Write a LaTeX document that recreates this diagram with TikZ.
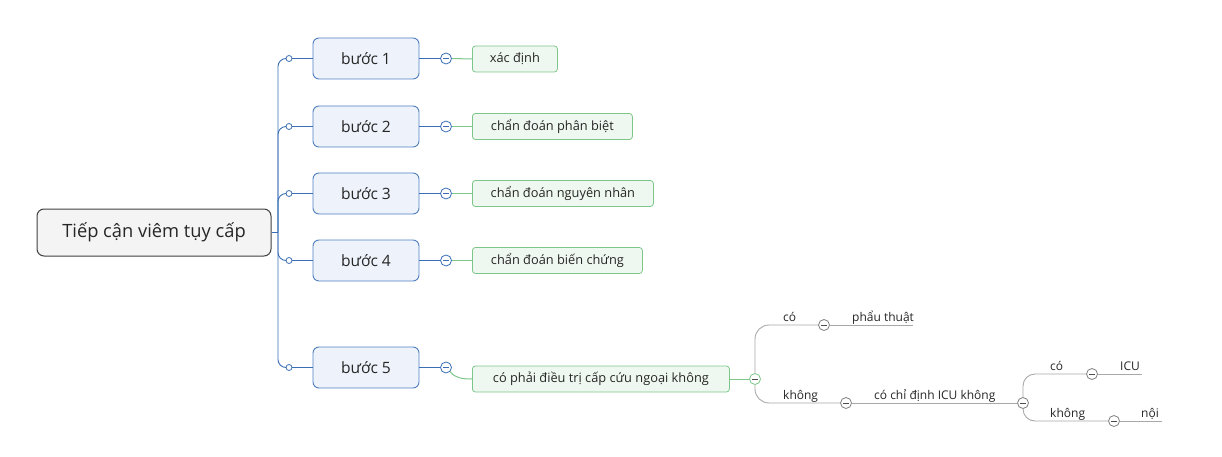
\documentclass[tikz,border=0pt]{standalone}
\usepackage{fontspec}
\setmainfont{Open Sans}
\usetikzlibrary{calc}
\definecolor{bluebd}{HTML}{4F7FC0}
\definecolor{bluefill}{HTML}{EEF3FB}
\definecolor{bluel}{HTML}{3A6FB5}
\definecolor{greenbd}{HTML}{7CC68A}
\definecolor{greenfill}{HTML}{EFF8F0}
\definecolor{greyl}{HTML}{A8A8A8}
\definecolor{rootbd}{HTML}{404040}
\definecolor{rootfill}{HTML}{F4F4F4}
\definecolor{txt}{HTML}{262626}
\tikzset{
  x=1pt,y=-1pt,
  rootbox/.style={draw=rootbd,line width=1pt,fill=rootfill,rounded corners=7pt,minimum width=234pt,minimum height=47pt,inner sep=0pt,font=\fontsize{18.3}{21}\selectfont,text=txt},
  stepbox/.style={draw=bluebd,line width=0.9pt,fill=bluefill,rounded corners=6pt,minimum width=106pt,minimum height=41pt,inner sep=0pt,font=\fontsize{15.6}{18}\selectfont,text=txt},
  leafbox/.style={draw=greenbd,line width=0.8pt,fill=greenfill,rounded corners=3pt,minimum height=26pt,inner sep=0pt,anchor=west,font=\fontsize{12.8}{15}\selectfont,text=txt},
  bluelink/.style={draw=bluel,line width=0.9pt},
  greenlink/.style={draw=greenbd,line width=1pt},
  greylink/.style={draw=greyl,line width=0.9pt},
  dotc/.style={circle,draw=bluel,fill=white,line width=0.8pt,minimum size=6pt,inner sep=0pt},
  minusb/.style={circle,draw=bluel,fill=white,line width=0.8pt,minimum size=11pt,inner sep=0pt,
     path picture={\draw[bluel,line width=1pt] ($(path picture bounding box.center)+(-2.8,0)$) -- ($(path picture bounding box.center)+(2.8,0)$);}},
  minusg/.style={minusb,draw=greenbd,path picture={\draw[black!70,line width=1pt] ($(path picture bounding box.center)+(-2.8,0)$) -- ($(path picture bounding box.center)+(2.8,0)$);}},
  minusgr/.style={minusb,draw=gray,path picture={\draw[black!70,line width=1pt] ($(path picture bounding box.center)+(-2.8,0)$) -- ($(path picture bounding box.center)+(2.8,0)$);}},
  lbl/.style={font=\fontsize{12}{14}\selectfont,text=txt,inner sep=0pt,anchor=base west}
}
\begin{document}
\begin{tikzpicture}
\useasboundingbox (0,0) rectangle (1222,457);
% root
\node[rootbox] (root) at (154,232.5) {Tiếp cận viêm tụy cấp};
\coordinate (tr) at (278,232.5);
\draw[bluelink] (root.east) -- (tr);
% steps
\foreach \i/\y in {1/58.5,2/126.5,3/193.5,4/260.5,5/367.5}{
  \node[stepbox] (s\i) at (366,\y) {bước \i};
  \node[dotc] (d\i) at (289,\y) {};
  \draw[bluelink,rounded corners=8pt] (tr) -- (278,\y) -- (d\i.west);
  \draw[bluelink] (d\i.east) -- (s\i.west);
  \node[minusb] (m\i) at (446,\y) {};
  \draw[bluelink] (s\i.east) -- (m\i.west);
}
% leaves
\node[leafbox,minimum width=85pt] (l1) at (472,59) {xác định};
\node[leafbox,minimum width=160pt] (l2) at (472,126.5) {chẩn đoán phân biệt};
\node[leafbox,minimum width=181pt] (l3) at (472,193.5) {chẩn đoán nguyên nhân};
\node[leafbox,minimum width=170pt] (l4) at (472,260.5) {chẩn đoán biến chứng};
\node[leafbox,minimum width=257pt] (l5) at (472,379) {có phải điều trị cấp cứu ngoại không};
\foreach \i in {1,2,3,4}{\draw[greenlink] (m\i.east) -- (l\i.west);}
\draw[greenlink] (m5.south east) .. controls (455,378) and (462,379) .. (l5.west);
% grey subtree
\node[minusg] (g0) at (755,379) {};
\draw[greenlink] (l5.east) -- (g0.west);
\node[minusgr] (g1) at (824,325) {};
\node[minusgr] (g2) at (846,403) {};
\coordinate (e1) at (913,325);
\node[minusgr] (g3) at (1023,403) {};
\draw[greylink,rounded corners=14pt] (g0.north) -- (755,325) -- (g1.west);
\draw[greylink] (g1.east) -- (e1);
\draw[greylink,rounded corners=14pt] (g0.south) -- (755,403) -- (g2.west);
\draw[greylink] (g2.east) -- (g3.west);
\node[minusgr] (g4) at (1092,374) {};
\node[minusgr] (g5) at (1114,421) {};
\coordinate (e4) at (1142,374);
\coordinate (e5) at (1162,421);
\draw[greylink,rounded corners=12pt] (g3.north) -- (1023,374) -- (g4.west);
\draw[greylink] (g4.east) -- (e4);
\draw[greylink,rounded corners=12pt] (g3.south) -- (1023,421) -- (g5.west);
\draw[greylink] (g5.east) -- (e5);
% labels
\node[lbl] (t1) at (783,321) {có};
\node[lbl] (t2) at (852,321) {phẩu thuật};
\node[lbl] (t3) at (783,399) {không};
\node[lbl] (t4) at (874,399) {có chỉ định ICU không};
\node[lbl] (t5) at (1050,370) {có};
\node[lbl] (t6) at (1120,370) {ICU};
\node[lbl] (t7) at (1050,417) {không};
\node[lbl] (t8) at (1141,417) {nội};
\end{tikzpicture}
\end{document}
